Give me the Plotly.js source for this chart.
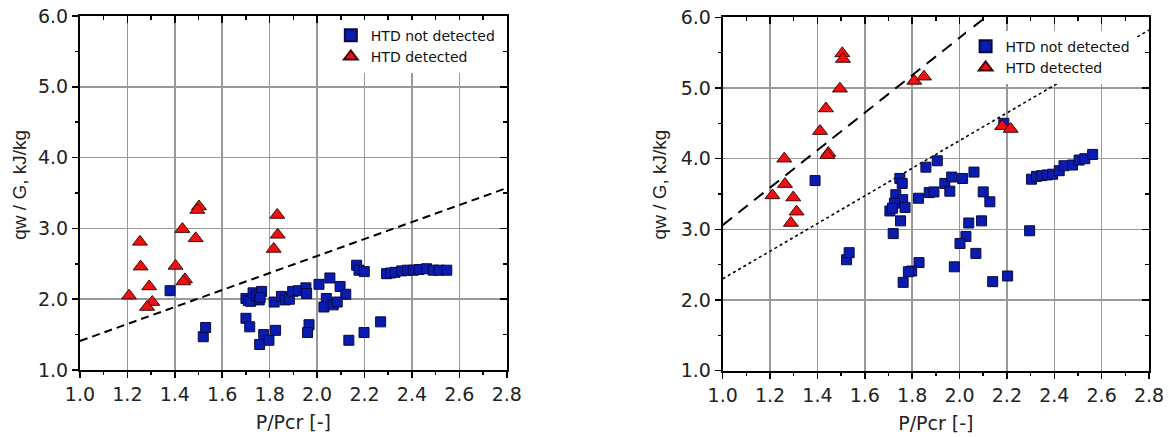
<!DOCTYPE html>
<html>
<head>
<meta charset="utf-8">
<script src="https://cdn.plot.ly/plotly-3.0.1.min.js"></script>
<style>html,body{margin:0;padding:0;background:#fff;}#chart{width:1169px;height:437px;}</style>
</head>
<body>
<div id="chart"></div>
<script>
// ---- Left panel data ----
const leftNotX = [1.38, 1.52, 1.53, 1.70, 1.716, 1.775, 1.758, 1.797, 1.825,
  1.70, 1.71, 1.72, 1.73, 1.745, 1.756, 1.766, 1.76,
  1.819, 1.85, 1.865, 1.883, 1.897, 1.921, 1.953, 1.956, 1.966, 1.960,
  2.008, 2.054, 2.097, 2.121, 2.039, 2.029, 2.068, 2.085,
  2.134, 2.198, 2.268, 2.167, 2.177, 2.199,
  2.293, 2.31, 2.329, 2.357, 2.381, 2.406, 2.430, 2.462, 2.490, 2.515, 2.547];
const leftNotY = [2.12, 1.47, 1.60, 1.73, 1.61, 1.50, 1.36, 1.42, 1.56,
  2.01, 1.98, 1.97, 2.09, 2.05, 1.99, 2.11, 2.02,
  1.96, 2.04, 1.99, 2.00, 2.11, 2.12, 2.16, 2.08, 1.64, 1.53,
  2.21, 2.30, 2.18, 2.07, 2.01, 1.89, 1.92, 1.96,
  1.42, 1.53, 1.68, 2.48, 2.41, 2.39,
  2.36, 2.37, 2.38, 2.40, 2.41, 2.41, 2.42, 2.43, 2.41, 2.41, 2.41];
const leftDetX = [1.502, 1.495, 1.432, 1.253, 1.488, 1.403, 1.256, 1.443, 1.436, 1.292, 1.207, 1.305, 1.283, 1.832, 1.834, 1.817];
const leftDetY = [3.31, 3.26, 2.99, 2.81, 2.86, 2.47, 2.46, 2.28, 2.25, 2.18, 2.05, 1.96, 1.89, 3.19, 2.91, 2.71];
const leftDashX = [1.0, 2.8];
const leftDashY = [1.41, 3.57];

// ---- Right panel data ----
const rightNotX = [1.39, 1.523, 1.534, 1.748, 1.758, 1.858, 1.906,
  1.731, 1.76, 1.725, 1.706, 1.717, 1.77, 1.751, 1.72,
  1.827, 1.872, 1.892, 1.938, 1.967, 1.959, 2.013, 2.061, 2.10, 2.128,
  2.039, 2.093, 2.027, 2.002, 2.069, 1.978,
  1.829, 1.798, 1.784, 1.762, 2.14, 2.203, 2.296, 2.187,
  2.304, 2.325, 2.347, 2.37, 2.393, 2.421, 2.441, 2.477, 2.505, 2.529, 2.562];
const rightNotY = [3.69, 2.57, 2.67, 3.72, 3.65, 3.88, 3.97,
  3.49, 3.42, 3.37, 3.26, 3.30, 3.31, 3.12, 2.94,
  3.44, 3.52, 3.53, 3.65, 3.74, 3.54, 3.72, 3.81, 3.53, 3.39,
  3.09, 3.12, 2.90, 2.80, 2.66, 2.47,
  2.53, 2.41, 2.40, 2.25, 2.26, 2.34, 2.98, 4.50,
  3.71, 3.75, 3.76, 3.77, 3.78, 3.83, 3.90, 3.91, 3.98, 4.00, 4.06];
const rightDetX = [1.505, 1.508, 1.495, 1.436, 1.411, 1.446, 1.442, 1.26, 1.263, 1.21, 1.298, 1.312, 1.288, 1.809, 1.850, 2.18, 2.216];
const rightDetY = [5.49, 5.41, 4.99, 4.71, 4.39, 4.08, 4.05, 4.00, 3.64, 3.48, 3.45, 3.25, 3.09, 5.10, 5.16, 4.46, 4.42];
const rightDashX = [1.0, 2.2];
const rightDashY = [3.06, 6.24];
const rightDotX = [1.0, 2.8];
const rightDotY = [2.30, 5.82];

const xTickVals = [1.0, 1.2, 1.4, 1.6, 1.8, 2.0, 2.2, 2.4, 2.6, 2.8];
const yTickVals = [1.0, 2.0, 3.0, 4.0, 5.0, 6.0];
const xTitle = 'P/Pcr [-]';
const yTitle = 'qw / G, kJ/kg';

const WIDE = '"DejaVu Sans", Arial, sans-serif';
const FONT = 'Arial, "Liberation Sans", sans-serif';
const blueMarker = {symbol: 'square', size: 10, color: '#0a1cb0', line: {color: '#0a0a40', width: 1}};
const redMarker = {symbol: 'triangle-up', size: 13, color: '#f01010', line: {color: '#400808', width: 1}};

const traces = [
  {x: leftDashX, y: leftDashY, xaxis: 'x', yaxis: 'y', mode: 'lines', showlegend: false, hoverinfo: 'skip',
   line: {color: '#000', width: 2, dash: '8px,5px'}},
  {x: leftNotX, y: leftNotY, xaxis: 'x', yaxis: 'y', mode: 'markers', name: 'HTD not detected', legend: 'legend', marker: blueMarker},
  {x: leftDetX, y: leftDetY, xaxis: 'x', yaxis: 'y', mode: 'markers', name: 'HTD detected', legend: 'legend', marker: redMarker},
  {x: rightDashX, y: rightDashY, xaxis: 'x2', yaxis: 'y2', mode: 'lines', showlegend: false, hoverinfo: 'skip',
   line: {color: '#000', width: 2, dash: '12px,8px'}},
  {x: rightDotX, y: rightDotY, xaxis: 'x2', yaxis: 'y2', mode: 'lines', showlegend: false, hoverinfo: 'skip',
   line: {color: '#000', width: 1.6, dash: 'dot'}},
  {x: rightNotX, y: rightNotY, xaxis: 'x2', yaxis: 'y2', mode: 'markers', name: 'HTD not detected', legend: 'legend2', marker: blueMarker},
  {x: rightDetX, y: rightDetY, xaxis: 'x2', yaxis: 'y2', mode: 'markers', name: 'HTD detected', legend: 'legend2', marker: redMarker},
  {x: [], y: [], xaxis: 'x3', yaxis: 'y3', mode: 'markers', showlegend: false},
  {x: [], y: [], xaxis: 'x4', yaxis: 'y4', mode: 'markers', showlegend: false}
];

function xMain(domain) {
  return {
    domain: domain, range: [1.0, 2.8], tickvals: xTickVals, ticktext: xTickVals.map(v => v.toFixed(1)),
    ticks: 'outside', ticklen: 6, tickwidth: 1.5, tickcolor: '#000',
    minor: {dtick: 0.1, ticks: 'outside', ticklen: 3, tickwidth: 1.5, tickcolor: '#000', showgrid: false},
    showline: true, linecolor: '#000', linewidth: 2, mirror: false,
    showgrid: true, gridcolor: '#9a9a9a', gridwidth: 1.5, zeroline: false,
    tickfont: {family: WIDE, size: 19, color: '#222'},
    title: {text: xTitle, font: {family: WIDE, size: 19, color: '#222'}, standoff: 12},
    automargin: false, fixedrange: true
  };
}
function yMain(domain, anchor) {
  return {
    domain: domain, anchor: anchor, range: [1.0, 6.0], tickvals: yTickVals, ticktext: yTickVals.map(v => v.toFixed(1)),
    ticks: 'outside', ticklen: 6, tickwidth: 1.5, tickcolor: '#000',
    minor: {dtick: 0.5, ticks: 'outside', ticklen: 3, tickwidth: 1.5, tickcolor: '#000', showgrid: false},
    showline: true, linecolor: '#000', linewidth: 2, mirror: false,
    showgrid: true, gridcolor: '#9a9a9a', gridwidth: 1.5, zeroline: false,
    tickfont: {family: WIDE, size: 19, color: '#222'},
    automargin: false, fixedrange: true
  };
}
function xMirror(over, anchor) {
  return {overlaying: over, anchor: anchor, side: 'top', range: [1.0, 2.8], dtick: 0.2, tick0: 1.0,
    ticks: 'inside', ticklen: 7, tickwidth: 1.5, tickcolor: '#000',
    minor: {dtick: 0.1, ticks: 'inside', ticklen: 4, tickwidth: 1.5, tickcolor: '#000', showgrid: false},
    showticklabels: false, showline: true, linecolor: '#000', linewidth: 2, showgrid: false, zeroline: false, fixedrange: true};
}
function yMirror(over, anchor) {
  return {overlaying: over, anchor: anchor, side: 'right', range: [1.0, 6.0], dtick: 1, tick0: 1.0,
    ticks: 'inside', ticklen: 7, tickwidth: 1.5, tickcolor: '#000',
    minor: {dtick: 0.5, ticks: 'inside', ticklen: 4, tickwidth: 1.5, tickcolor: '#000', showgrid: false},
    showticklabels: false, showline: true, linecolor: '#000', linewidth: 2, showgrid: false, zeroline: false, fixedrange: true};
}

const layout = {
  width: 1169, height: 437,
  margin: {l: 0, r: 0, t: 0, b: 0},
  paper_bgcolor: '#fff', plot_bgcolor: '#fff',
  font: {family: WIDE, color: '#222'},
  xaxis: Object.assign(xMain([0.0684, 0.4335]), {anchor: 'y'}),
  yaxis: yMain([0.1533, 0.9634], 'x'),
  xaxis2: Object.assign(xMain([0.6182, 0.9829]), {anchor: 'y2'}),
  yaxis2: yMain([0.1517, 0.9604], 'x2'),
  xaxis3: xMirror('x', 'y3'),
  yaxis3: yMirror('y', 'x3'),
  xaxis4: xMirror('x2', 'y4'),
  yaxis4: yMirror('y2', 'x4'),
  annotations: [
    {text: yTitle, xref: 'paper', yref: 'paper', x: 0.0165, y: 0.578, xanchor: 'center', yanchor: 'middle',
     textangle: -90, showarrow: false, font: {family: FONT, size: 19, color: '#222'}},
    {text: yTitle, xref: 'paper', yref: 'paper', x: 0.5637, y: 0.578, xanchor: 'center', yanchor: 'middle',
     textangle: -90, showarrow: false, font: {family: FONT, size: 19, color: '#222'}}
  ],
  legend: {x: 0.283, xanchor: 'left', y: 0.955, yanchor: 'top', bgcolor: '#fff', borderwidth: 0,
    font: {family: WIDE, size: 14, color: '#111'}, tracegroupgap: 0, itemsizing: 'constant'},
  legend2: {x: 0.826, xanchor: 'left', y: 0.93, yanchor: 'top', bgcolor: '#fff', borderwidth: 0,
    font: {family: WIDE, size: 14, color: '#111'}, tracegroupgap: 0, itemsizing: 'constant'},
  showlegend: true
};

Plotly.newPlot('chart', traces, layout, {displayModeBar: false, staticPlot: true});
</script>
</body>
</html>
